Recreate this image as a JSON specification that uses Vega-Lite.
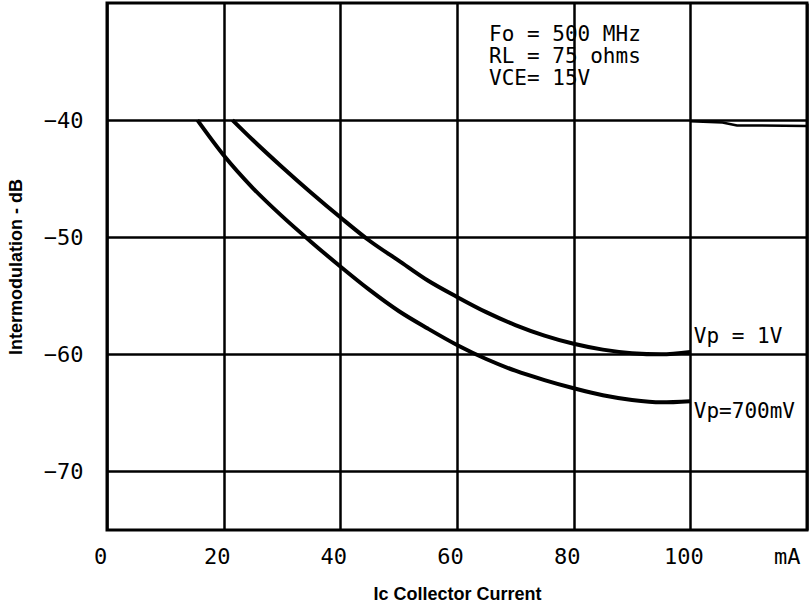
{
  "$schema": "https://vega.github.io/schema/vega-lite/v6.json",
  "width": 700,
  "height": 527,
  "autosize": "none",
  "padding": {"left": 107, "top": 3, "right": 4, "bottom": 79},
  "background": "white",
  "config": {
    "view": {"stroke": "black", "strokeWidth": 3},
    "axis": {
      "domain": false,
      "ticks": false,
      "grid": true,
      "gridColor": "black",
      "gridWidth": 2.5,
      "gridOpacity": 1,
      "labelFont": "DejaVu Sans Mono",
      "labelFontSize": 22,
      "labelColor": "black",
      "titleFont": "Liberation Sans",
      "titleFontWeight": "bold",
      "titleFontSize": 18,
      "titleColor": "black"
    }
  },
  "datasets": {
    "curves": [
      {"series": "Vp = 1V", "ic": 21.5, "db": -40.0},
      {"series": "Vp = 1V", "ic": 25, "db": -41.7},
      {"series": "Vp = 1V", "ic": 30, "db": -44.0},
      {"series": "Vp = 1V", "ic": 35, "db": -46.2},
      {"series": "Vp = 1V", "ic": 40, "db": -48.3},
      {"series": "Vp = 1V", "ic": 45, "db": -50.3},
      {"series": "Vp = 1V", "ic": 50, "db": -52.0},
      {"series": "Vp = 1V", "ic": 55, "db": -53.7},
      {"series": "Vp = 1V", "ic": 60, "db": -55.1},
      {"series": "Vp = 1V", "ic": 65, "db": -56.4},
      {"series": "Vp = 1V", "ic": 70, "db": -57.5},
      {"series": "Vp = 1V", "ic": 75, "db": -58.4},
      {"series": "Vp = 1V", "ic": 80, "db": -59.1},
      {"series": "Vp = 1V", "ic": 85, "db": -59.6},
      {"series": "Vp = 1V", "ic": 90, "db": -59.9},
      {"series": "Vp = 1V", "ic": 95, "db": -60.0},
      {"series": "Vp = 1V", "ic": 100, "db": -59.8},
      {"series": "Vp=700mV", "ic": 15.5, "db": -40.0},
      {"series": "Vp=700mV", "ic": 20, "db": -43.0},
      {"series": "Vp=700mV", "ic": 25, "db": -45.8},
      {"series": "Vp=700mV", "ic": 30, "db": -48.2},
      {"series": "Vp=700mV", "ic": 35, "db": -50.4},
      {"series": "Vp=700mV", "ic": 40, "db": -52.5},
      {"series": "Vp=700mV", "ic": 45, "db": -54.5},
      {"series": "Vp=700mV", "ic": 50, "db": -56.3},
      {"series": "Vp=700mV", "ic": 55, "db": -57.8},
      {"series": "Vp=700mV", "ic": 60, "db": -59.2},
      {"series": "Vp=700mV", "ic": 65, "db": -60.4},
      {"series": "Vp=700mV", "ic": 70, "db": -61.4},
      {"series": "Vp=700mV", "ic": 75, "db": -62.2},
      {"series": "Vp=700mV", "ic": 80, "db": -62.9},
      {"series": "Vp=700mV", "ic": 85, "db": -63.5},
      {"series": "Vp=700mV", "ic": 90, "db": -63.9},
      {"series": "Vp=700mV", "ic": 95, "db": -64.1},
      {"series": "Vp=700mV", "ic": 100, "db": -64.0}
    ],
    "kink": [
      {"ic": 100, "db": -40.1},
      {"ic": 105.5, "db": -40.2},
      {"ic": 108, "db": -40.45},
      {"ic": 120, "db": -40.5}
    ],
    "notes": [
      {"ic": 65.5, "db": -32.75, "label": "Fo = 500 MHz"},
      {"ic": 65.5, "db": -34.63, "label": "RL = 75 ohms"},
      {"ic": 65.5, "db": -36.5, "label": "VCE= 15V"},
      {"ic": 100.6, "db": -58.5, "label": "Vp = 1V"},
      {"ic": 100.6, "db": -64.9, "label": "Vp=700mV"}
    ]
  },
  "layer": [
    {
      "data": {"name": "curves"},
      "mark": {"type": "line", "color": "black", "strokeWidth": 4, "interpolate": "monotone"},
      "encoding": {
        "x": {
          "field": "ic", "type": "quantitative",
          "scale": {"domain": [0, 120], "nice": false, "zero": false},
          "axis": {
            "values": [0, 20, 40, 60, 80, 100, 120],
            "labelExpr": "datum.value == 120 ? 'mA' : datum.label",
            "labelAlign": {"condition": {"test": "datum.value == 120", "value": "right"}, "value": "center"},
            "labelPadding": 16,
            "labelOffset": -7,
            "title": "Ic Collector Current",
            "titlePadding": 18,
            "labelFlush": false
          }
        },
        "y": {
          "field": "db", "type": "quantitative",
          "scale": {"domain": [-75, -30], "nice": false, "zero": false},
          "axis": {
            "values": [-40, -50, -60, -70],
            "labelPadding": 24,
            "title": "Intermodulation - dB",
            "titlePadding": 18
          }
        },
        "detail": {"field": "series"}
      }
    },
    {
      "data": {"name": "kink"},
      "mark": {"type": "line", "color": "black", "strokeWidth": 2.5},
      "encoding": {
        "x": {"field": "ic", "type": "quantitative"},
        "y": {"field": "db", "type": "quantitative"}
      }
    },
    {
      "data": {"name": "notes"},
      "mark": {"type": "text", "align": "left", "baseline": "middle", "font": "DejaVu Sans Mono", "fontSize": 21, "color": "black"},
      "encoding": {
        "x": {"field": "ic", "type": "quantitative"},
        "y": {"field": "db", "type": "quantitative"},
        "text": {"field": "label"}
      }
    }
  ]
}
